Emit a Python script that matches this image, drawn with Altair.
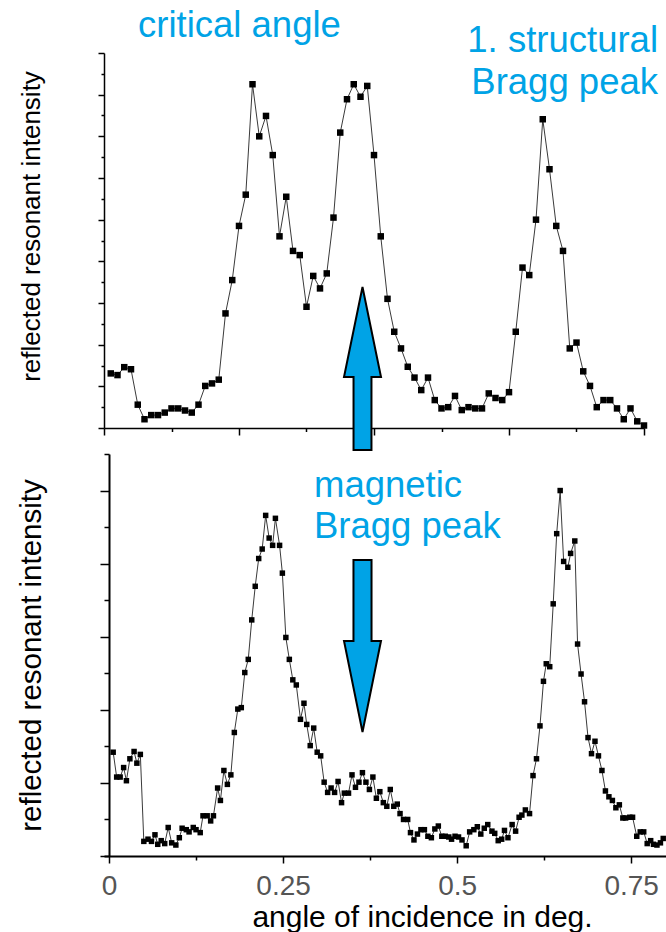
import altair as alt
import pandas as pd

# ---------------- data ----------------
top_angle = [0.01, 0.02, 0.03, 0.04, 0.05, 0.06, 0.07, 0.08, 0.09, 0.10,
             0.11, 0.12, 0.13, 0.14, 0.15, 0.16, 0.17, 0.18, 0.19, 0.20,
             0.21, 0.22, 0.23, 0.24, 0.25, 0.26, 0.27, 0.28, 0.29, 0.30,
             0.31, 0.32, 0.33, 0.34, 0.35, 0.36, 0.37, 0.38, 0.39, 0.40,
             0.41, 0.42, 0.43, 0.44, 0.45, 0.46, 0.47, 0.48, 0.49, 0.50,
             0.51, 0.52, 0.53, 0.54, 0.55, 0.56, 0.57, 0.58, 0.59, 0.60,
             0.61, 0.62, 0.63, 0.64, 0.65, 0.66, 0.67, 0.68, 0.69, 0.70,
             0.71, 0.72, 0.73, 0.74, 0.75, 0.76, 0.77, 0.78, 0.79, 0.80]
top_intensity = [1.31, 1.27, 1.46, 1.41, 0.56, 0.21, 0.31, 0.31, 0.37, 0.47,
                 0.47, 0.42, 0.37, 0.56, 1.01, 1.07, 1.16, 2.75, 3.55, 4.85,
                 5.60, 8.25, 7.00, 7.49, 6.55, 4.60, 5.55, 4.25, 4.15, 2.91,
                 3.65, 3.35, 3.71, 5.05, 7.09, 7.89, 8.25, 7.95, 8.21, 6.55,
                 4.60, 3.10, 2.31, 1.91, 1.47, 1.21, 0.91, 1.21, 0.67, 0.47,
                 0.50, 0.77, 0.43, 0.50, 0.47, 0.47, 0.83, 0.72, 0.67, 0.86,
                 2.31, 3.85, 3.67, 5.00, 7.41, 6.21, 4.85, 4.25, 1.91, 2.05,
                 1.36, 1.01, 0.50, 0.67, 0.67, 0.47, 0.21, 0.47, 0.16, 0.06]

bottom_angle = [0.006, 0.011, 0.016, 0.021, 0.025, 0.030, 0.036, 0.040, 0.045, 0.050,
                0.056, 0.061, 0.066, 0.070, 0.075, 0.080, 0.085, 0.090, 0.096, 0.101,
                0.105, 0.111, 0.115, 0.121, 0.125, 0.131, 0.135, 0.141, 0.146, 0.150,
                0.156, 0.160, 0.165, 0.170, 0.175, 0.180, 0.185, 0.190, 0.195, 0.200,
                0.205, 0.210, 0.215, 0.220, 0.225, 0.230, 0.235, 0.239, 0.245, 0.249,
                0.254, 0.259, 0.264, 0.269, 0.275, 0.280, 0.284, 0.289, 0.294, 0.299,
                0.304, 0.309, 0.314, 0.319, 0.324, 0.329, 0.334, 0.338, 0.344, 0.349,
                0.354, 0.359, 0.364, 0.369, 0.374, 0.379, 0.384, 0.389, 0.394, 0.399,
                0.404, 0.409, 0.414, 0.418, 0.423, 0.429, 0.433, 0.438, 0.443, 0.448,
                0.453, 0.458, 0.463, 0.468, 0.473, 0.478, 0.483, 0.488, 0.492, 0.497,
                0.502, 0.507, 0.513, 0.518, 0.524, 0.529, 0.534, 0.539, 0.544, 0.550,
                0.554, 0.559, 0.564, 0.568, 0.573, 0.579, 0.584, 0.589, 0.593, 0.598,
                0.604, 0.609, 0.614, 0.619, 0.624, 0.628, 0.633, 0.638, 0.643, 0.648,
                0.653, 0.659, 0.663, 0.669, 0.673, 0.678, 0.683, 0.688, 0.693, 0.698,
                0.703, 0.708, 0.713, 0.718, 0.723, 0.728, 0.733, 0.738, 0.742, 0.748,
                0.752, 0.758, 0.763, 0.768, 0.773, 0.778, 0.782, 0.787, 0.792, 0.796]
bottom_intensity = [1.42, 1.08, 1.08, 1.21, 1.03, 1.33, 1.43, 1.27, 1.39, 0.20,
                    0.23, 0.20, 0.29, 0.16, 0.21, 0.17, 0.39, 0.18, 0.15, 0.25,
                    0.38, 0.36, 0.33, 0.39, 0.36, 0.32, 0.55, 0.55, 0.48, 0.55,
                    0.93, 0.76, 1.17, 0.98, 1.11, 1.69, 2.01, 2.03, 2.51, 2.69,
                    3.23, 3.69, 4.07, 4.20, 4.66, 4.35, 4.25, 4.62, 4.25, 3.87,
                    2.99, 2.69, 2.41, 2.34, 1.87, 2.09, 1.80, 1.51, 1.75, 1.42,
                    1.37, 1.01, 0.87, 0.93, 0.87, 1.02, 0.73, 0.86, 0.86, 1.11,
                    0.94, 1.01, 1.14, 1.01, 0.91, 1.08, 0.79, 0.88, 0.73, 0.68,
                    0.91, 0.68, 0.71, 0.58, 0.50, 0.50, 0.32, 0.22, 0.30, 0.36,
                    0.36, 0.27, 0.25, 0.37, 0.41, 0.27, 0.27, 0.26, 0.23, 0.27,
                    0.26, 0.22, 0.14, 0.33, 0.36, 0.40, 0.30, 0.38, 0.43, 0.34,
                    0.31, 0.21, 0.23, 0.35, 0.25, 0.43, 0.34, 0.53, 0.56, 0.63,
                    0.58, 1.10, 1.33, 1.78, 2.39, 2.63, 2.59, 3.45, 4.41, 5.00,
                    4.03, 3.95, 4.14, 4.31, 2.90, 2.49, 2.11, 1.62, 1.40, 1.57,
                    1.37, 1.17, 0.89, 0.81, 0.76, 0.66, 0.70, 0.52, 0.52, 0.53,
                    0.53, 0.27, 0.33, 0.33, 0.17, 0.21, 0.16, 0.15, 0.18, 0.24]

x_tick_values = [0, 0.125, 0.25, 0.375, 0.5, 0.625, 0.75]
top_x_ticks = [0, 0.1, 0.2, 0.3, 0.4, 0.5, 0.6, 0.7, 0.8]
top_y_ticks = [0, 0.5, 1, 1.5, 2, 2.5, 3, 3.5, 4, 4.5, 5, 5.5, 6, 6.5, 7, 7.5, 8, 8.5, 9]
bottom_y_ticks = [0, 0.5, 1, 1.5, 2, 2.5, 3, 3.5, 4, 4.5, 5, 5.5]

y_title = "reflected resonant intensity"
x_title = "angle of incidence in deg."
top_labels = ["critical angle", "1. structural", "Bragg peak"]
bottom_labels = ["magnetic", "Bragg peak"]

# ---------------- styling ----------------
FONT = "Liberation Sans"
BLUE = "#00A3E6"
LINE = "#3a3a3a"

top_df = pd.DataFrame({"angle": top_angle, "intensity": top_intensity})
bot_df = pd.DataFrame({"angle": bottom_angle, "intensity": bottom_intensity})
one = pd.DataFrame({"k": [0]})

UP_ARROW = ("M 0 -1 L 0.227 0.104 L 0.110 0.104 L 0.110 1 "
            "L -0.110 1 L -0.110 0.104 L -0.227 0.104 Z")
DOWN_ARROW = ("M -0.105 -1 L 0.105 -1 L 0.105 -0.058 L 0.215 -0.058 "
              "L 0 1 L -0.215 -0.058 L -0.105 -0.058 Z")

# ---------------- top panel ----------------
tx = alt.X("angle:Q",
           scale=alt.Scale(domain=[0, 0.8], nice=False, zero=False),
           axis=alt.Axis(values=top_x_ticks, labels=False, title=None, grid=False,
                         domainColor="black", domainWidth=1.5,
                         tickColor="black", tickWidth=1.5,
                         tickSize={"condition": {"test": "round(datum.value*10) % 2 == 0", "value": 7},
                                   "value": 3.5}))
ty = alt.Y("intensity:Q",
           scale=alt.Scale(domain=[0, 9], nice=False, zero=False),
           axis=alt.Axis(values=top_y_ticks, labels=False, grid=False,
                         title=y_title, titleFont=FONT, titleFontSize=26,
                         titleFontWeight="normal", titleColor="black",
                         titleX=-60, titleY=173, titleBaseline="bottom",
                         domainColor="black", domainWidth=1.5,
                         tickColor="black", tickWidth=1.5,
                         tickSize={"condition": {"test": "datum.value % 1 == 0", "value": 6},
                                   "value": 3}))

top_line = alt.Chart(top_df).mark_line(color=LINE, strokeWidth=1).encode(x=tx, y=ty)
top_pts = alt.Chart(top_df).mark_point(shape="square", filled=True, color="black",
                                       size=42, opacity=1).encode(x=tx, y=ty)

arrow_up = alt.Chart(one).mark_point(shape=UP_ARROW, filled=True, fill=BLUE, stroke="black",
                                     strokeWidth=2, opacity=1, size=163 * 163).encode(
    x=alt.value(258.5), y=alt.value(315.5))


def label(text, x, y, align, size=36.5):
    return alt.Chart(pd.DataFrame({"t": [text]})).mark_text(
        font=FONT, fontSize=size, color=BLUE, align=align, baseline="alphabetic"
    ).encode(text="t:N", x=alt.value(x), y=alt.value(y))


top = alt.layer(
    top_line, top_pts, arrow_up,
    label(top_labels[0], 34, -16, "left"),
    label(top_labels[1], 554, -1, "right"),
    label(top_labels[2], 554, 41, "right"),
).properties(width=540, height=375)

# ---------------- bottom panel ----------------
major_x = "abs(datum.value*4 - round(datum.value*4)) < 0.001"
bx = alt.X("angle:Q",
           scale=alt.Scale(domain=[-0.0072, 0.8], nice=False, zero=False),
           axis=alt.Axis(values=x_tick_values,
                         labelExpr=f"({major_x}) ? format(datum.value, '.2~f') : ''",
                         labelFont=FONT, labelFontSize=28, labelColor="#555555",
                         labelPadding=9, labelFlush=False, labelOverlap=False,
                         title=x_title, titleFont=FONT, titleFontSize=30,
                         titleFontWeight="normal", titleColor="black",
                         titleX=318, titleY=70, titleBaseline="alphabetic", titleAlign="center",
                         grid=False, domainColor="black", domainWidth=2,
                         tickColor="black", tickWidth=1.5,
                         tickSize={"condition": {"test": major_x, "value": 7}, "value": 4}))
by = alt.Y("intensity:Q",
           scale=alt.Scale(domain=[0, 5.5], nice=False, zero=False),
           axis=alt.Axis(values=bottom_y_ticks, labels=False, grid=False, offset=-5,
                         title=y_title, titleFont=FONT, titleFontSize=29.5,
                         titleFontWeight="normal", titleColor="black",
                         titleX=-63, titleY=201, titleBaseline="bottom",
                         domainColor="black", domainWidth=2,
                         tickColor="black", tickWidth=1.5,
                         tickSize={"condition": {"test": "datum.value % 1 == 0", "value": 9},
                                   "value": 5}))

bot_line = alt.Chart(bot_df).mark_line(color=LINE, strokeWidth=1).encode(x=bx, y=by)
bot_pts = alt.Chart(bot_df).mark_point(shape="square", filled=True, color="black",
                                       size=30, opacity=1).encode(x=bx, y=by)

arrow_down = alt.Chart(one).mark_point(shape=DOWN_ARROW, filled=True, fill=BLUE, stroke="black",
                                       strokeWidth=2, opacity=1, size=172 * 172).encode(
    x=alt.value(258.5), y=alt.value(192))

bottom = alt.layer(
    bot_line, bot_pts, arrow_down,
    label(bottom_labels[0], 210, 43, "left"),
    label(bottom_labels[1], 210, 84, "left"),
).properties(width=562, height=402)

chart = alt.vconcat(top, bottom, spacing=26, bounds="flush").properties(
    padding={"left": 15, "top": 8, "right": 0, "bottom": 0},
    background="white",
).configure_view(stroke=None)

chart.save("out.html", embed_options={"renderer": "svg", "actions": False})
